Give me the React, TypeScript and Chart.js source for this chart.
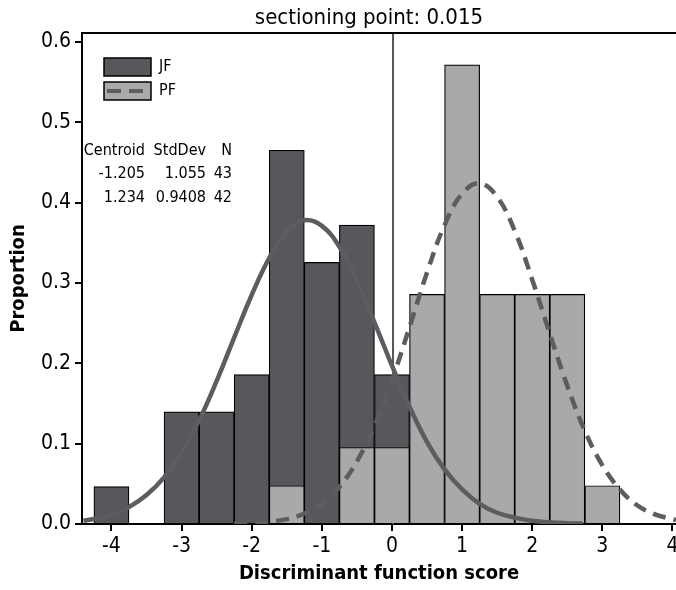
import React, { useEffect, useRef } from "react";
import { Chart, registerables } from "chart.js";

Chart.register(...registerables);

// Histogram bins (bin centres, width 0.5) and proportions
const jfBinCenters = [-4, -3, -2.5, -2, -1.5, -1, -0.5, 0];
const jfProportions = [0.0465, 0.1395, 0.1395, 0.186, 0.465, 0.3256, 0.372, 0.186];
const pfBinCenters = [-1.5, -0.5, 0, 0.5, 1, 1.5, 2, 2.5, 3];
const pfProportions = [0.0476, 0.0952, 0.0952, 0.2857, 0.5714, 0.2857, 0.2857, 0.2857, 0.0476];

// Fitted curves
const jfCurveX = [-4.4, -4.0, -3.75, -3.5, -3.25, -3.0, -2.75, -2.5, -2.25, -2.0, -1.75, -1.5, -1.25, -1.0, -0.75, -0.5, -0.25, 0, 0.25, 0.5, 0.75, 1.0, 1.25, 1.5, 1.75, 2.0, 2.25, 2.5, 2.72];
const jfCurveY = [0.004, 0.011, 0.021, 0.036, 0.058, 0.089, 0.129, 0.178, 0.232, 0.285, 0.331, 0.364, 0.378, 0.371, 0.345, 0.302, 0.251, 0.197, 0.146, 0.102, 0.068, 0.043, 0.025, 0.014, 0.008, 0.004, 0.002, 0.001, 0.0005];
const pfCurveX = [-2.25, -2.0, -1.75, -1.5, -1.25, -1.0, -0.75, -0.5, -0.25, 0, 0.25, 0.5, 0.75, 1.0, 1.25, 1.5, 1.75, 2.0, 2.25, 2.5, 2.75, 3.0, 3.25, 3.5, 3.75, 4.0, 4.05];
const pfCurveY = [0.0005, 0.001, 0.003, 0.006, 0.013, 0.025, 0.046, 0.078, 0.122, 0.179, 0.245, 0.313, 0.372, 0.411, 0.424, 0.407, 0.365, 0.304, 0.237, 0.172, 0.116, 0.073, 0.043, 0.023, 0.012, 0.006, 0.005];

const xTickValues = [-4, -3, -2, -1, 0, 1, 2, 3, 4];
const yTickValues = [0, 0.1, 0.2, 0.3, 0.4, 0.5, 0.6];
const sectioningPoint = 0.015;

const legendLabels = ["JF", "PF"];
const statsHeader = ["Centroid", "StdDev", "N"];
const statsRows = [
  ["-1.205", "1.055", "43"],
  ["1.234", "0.9408", "42"],
];

const FONT = "'DejaVu Sans Condensed', 'DejaVu Sans', sans-serif";
const DARK = "#58575c";
const LIGHT = "#a9a9a9";
const CURVE = "#5d5c61";

export default function App() {
  const ref = useRef<HTMLCanvasElement | null>(null);

  useEffect(() => {
    document.body.style.margin = "0";
    const canvas = ref.current;
    if (!canvas) return;

    const decor = {
      id: "decor",
      beforeDatasetsDraw(chart: any) {
        const { ctx, chartArea, scales } = chart;
        const x = scales.x.getPixelForValue(sectioningPoint);
        ctx.save();
        ctx.strokeStyle = "#555";
        ctx.lineWidth = 2;
        ctx.beginPath();
        ctx.moveTo(x, chartArea.top);
        ctx.lineTo(x, chartArea.bottom);
        ctx.stroke();
        ctx.restore();
      },
      afterDraw(chart: any) {
        const { ctx, chartArea } = chart;
        ctx.save();
        // top frame line
        ctx.strokeStyle = "#000";
        ctx.lineWidth = 2;
        ctx.beginPath();
        ctx.moveTo(chartArea.left - 1, chartArea.top);
        ctx.lineTo(chartArea.right, chartArea.top);
        ctx.stroke();

        // title
        ctx.fillStyle = "#000";
        ctx.font = `22px ${FONT}`;
        ctx.textAlign = "center";
        ctx.textBaseline = "alphabetic";
        ctx.fillText(`sectioning point: ${sectioningPoint}`, 369, 24);

        // legend
        ctx.lineWidth = 1.5;
        ctx.fillStyle = DARK;
        ctx.fillRect(104, 58, 47, 18);
        ctx.strokeRect(104, 58, 47, 18);
        ctx.fillStyle = LIGHT;
        ctx.fillRect(104, 82, 47, 18);
        ctx.strokeRect(104, 82, 47, 18);
        ctx.strokeStyle = CURVE;
        ctx.lineWidth = 4;
        ctx.setLineDash([14, 8]);
        ctx.beginPath();
        ctx.moveTo(107, 91);
        ctx.lineTo(148, 91);
        ctx.stroke();
        ctx.setLineDash([]);

        ctx.fillStyle = "#000";
        ctx.font = `16px ${FONT}`;
        ctx.textAlign = "left";
        ctx.textBaseline = "middle";
        ctx.fillText(legendLabels[0], 159, 67);
        ctx.fillText(legendLabels[1], 159, 91);

        // stats table
        ctx.textBaseline = "alphabetic";
        ctx.textAlign = "right";
        const colRight = [145, 206, 232];
        const rowBase = [155, 178, 202];
        statsHeader.forEach((t, i) => ctx.fillText(t, colRight[i], rowBase[0]));
        statsRows.forEach((row, r) =>
          row.forEach((t, i) => ctx.fillText(t, colRight[i], rowBase[r + 1]))
        );
        ctx.restore();
      },
    };

    const chart = new Chart(canvas, {
      type: "bar",
      data: {
        datasets: [
          {
            type: "line",
            label: "JF curve",
            data: jfCurveX.map((x, i) => ({ x, y: jfCurveY[i] })),
            borderColor: CURVE,
            borderWidth: 4.5,
            pointRadius: 0,
            tension: 0.4,
            fill: false,
            order: 0,
          } as any,
          {
            type: "line",
            label: "PF curve",
            data: pfCurveX.map((x, i) => ({ x, y: pfCurveY[i] })),
            borderColor: CURVE,
            borderWidth: 4.5,
            borderDash: [13, 8],
            pointRadius: 0,
            tension: 0.4,
            fill: false,
            order: 0,
          } as any,
          {
            label: "PF",
            data: pfBinCenters.map((x, i) => ({ x, y: pfProportions[i] })),
            backgroundColor: LIGHT,
            borderColor: "#000",
            borderWidth: 1.2,
            grouped: false,
            barPercentage: 1,
            categoryPercentage: 1,
            order: 1,
          } as any,
          {
            label: "JF",
            data: jfBinCenters.map((x, i) => ({ x, y: jfProportions[i] })),
            backgroundColor: DARK,
            borderColor: "#000",
            borderWidth: 1.2,
            grouped: false,
            barPercentage: 1,
            categoryPercentage: 1,
            order: 2,
          } as any,
        ],
      },
      options: {
        responsive: false,
        animation: false,
        devicePixelRatio: 1,
        layout: { padding: { top: 33, left: 0, right: 0, bottom: 0 } },
        plugins: { legend: { display: false }, tooltip: { enabled: false }, title: { display: false } },
        scales: {
          x: {
            type: "linear",
            min: -4.42,
            max: 4.05,
            offset: false,
            grid: { offset: false, drawOnChartArea: false, drawTicks: true, tickLength: 7, color: "#000", lineWidth: 2 },
            border: { display: true, color: "#000", width: 2 },
            afterBuildTicks: (s: any) => {
              s.ticks = xTickValues.map((v) => ({ value: v }));
            },
            ticks: {
              autoSkip: false,
              maxRotation: 0,
              padding: 3,
              color: "#000",
              font: { family: FONT, size: 21 },
              callback: (v: any) => String(v),
            },
            title: {
              display: true,
              text: "Discriminant function score",
              color: "#000",
              font: { family: FONT, size: 20, weight: "bold" },
              padding: { top: 0, bottom: 4 },
            },
            afterFit: (s: any) => {
              s.height = 66;
              s.paddingLeft = 0;
              s.paddingRight = 0;
            },
          } as any,
          y: {
            type: "linear",
            min: 0,
            max: 0.611,
            grid: { drawOnChartArea: false, drawTicks: true, tickLength: 7, color: "#000", lineWidth: 2 },
            border: { display: true, color: "#000", width: 2 },
            afterBuildTicks: (s: any) => {
              s.ticks = yTickValues.map((v) => ({ value: v }));
            },
            ticks: {
              autoSkip: false,
              padding: 4,
              color: "#000",
              font: { family: FONT, size: 21 },
              callback: (v: any) => Number(v).toFixed(1),
            },
            title: {
              display: true,
              text: "Proportion",
              color: "#000",
              font: { family: FONT, size: 20, weight: "bold" },
              padding: { top: 7, bottom: 0 },
            },
            afterFit: (s: any) => {
              s.width = 82;
              s.paddingTop = 0;
              s.paddingBottom = 0;
            },
          } as any,
        },
      },
      plugins: [decor],
    });

    return () => chart.destroy();
  }, []);

  return (
    <div style={{ width: 676, height: 590, position: "relative" }}>
      <canvas ref={ref} width={676} height={590} style={{ display: "block" }} />
    </div>
  );
}
